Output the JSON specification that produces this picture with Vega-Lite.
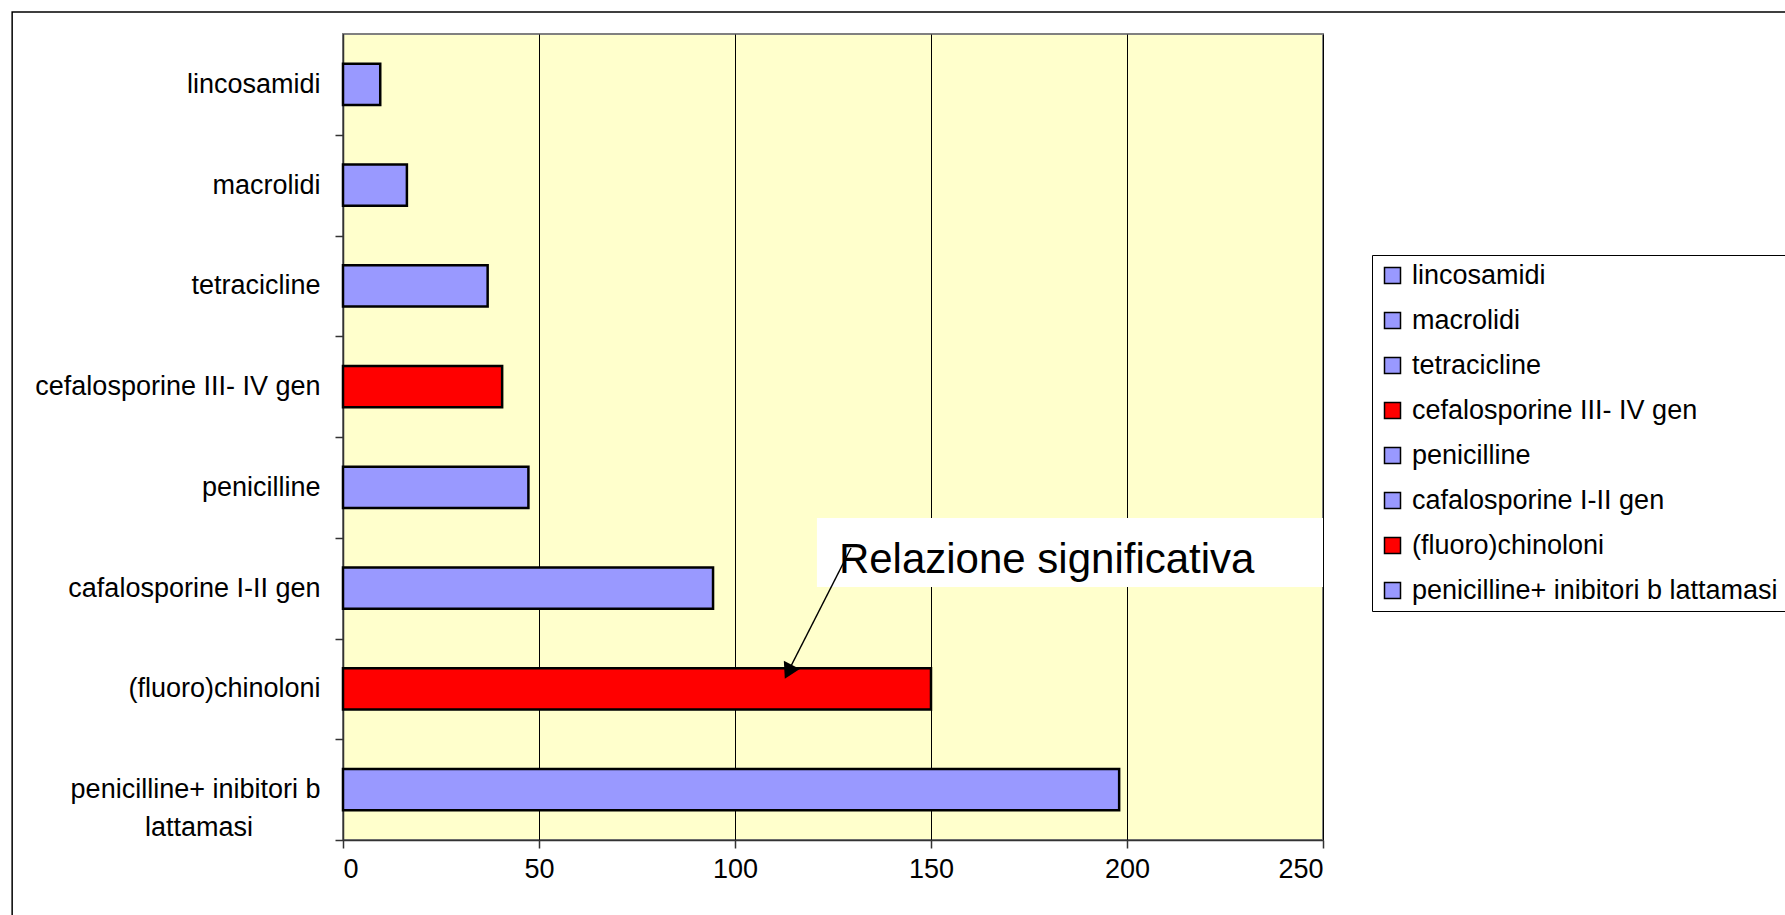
{
  "$schema": "https://vega.github.io/schema/vega-lite/v6.json",
  "autosize": {"type": "none"},
  "width": 980,
  "height": 806,
  "padding": {"left": 343, "top": 34, "right": 462, "bottom": 75},
  "background": "white",
  "config": {
    "font": "Liberation Sans",
    "view": {"fill": "#FFFFCC", "stroke": "#808080", "strokeWidth": 2},
    "axis": {
      "labelFont": "Liberation Sans",
      "labelFontSize": 27,
      "labelColor": "black",
      "domainColor": "#333333",
      "tickColor": "#333333",
      "domainWidth": 1.5,
      "tickWidth": 1.5,
      "title": null
    }
  },
  "datasets": {
    "bars": [
      {"classe": "lincosamidi", "valore": 9.5},
      {"classe": "macrolidi", "valore": 16.3},
      {"classe": "tetracicline", "valore": 36.9},
      {"classe": "cefalosporine III- IV gen", "valore": 40.6},
      {"classe": "penicilline", "valore": 47.3},
      {"classe": "cafalosporine I-II gen", "valore": 94.4},
      {"classe": "(fluoro)chinoloni", "valore": 150},
      {"classe": "penicilline+ inibitori b lattamasi", "valore": 198}
    ],
    "frame": [{"x": -84.4, "x2": 400, "y": 8.218, "y2": -1}],
    "box": [{"x": 120.9, "x2": 250, "y": 2.511, "y2": 3.196}],
    "note": [{"x": 126.5, "y": 2.654, "label": "Relazione significativa"}],
    "arrow": [{"x": 129.6, "y": 2.898, "x2": 113.8, "y2": 1.69}],
    "head": [{"x": 113.6, "y": 1.67}]
  },
  "layer": [
    {
      "data": {"name": "bars"},
      "mark": {"type": "bar", "stroke": "black", "strokeWidth": 2.5},
      "encoding": {
        "y": {
          "field": "classe",
          "type": "nominal",
          "sort": null,
          "scale": {"paddingInner": 0.59, "paddingOuter": 0.295},
          "axis": {
            "tickOffset": 50.375,
            "labelOffset": -50.375,
            "tickSize": 8,
            "labelPadding": 15,
            "labelLineHeight": 38,
            "labelLimit": 400,
            "labelExpr": "datum.value == 'penicilline+ inibitori b lattamasi' ? ['penicilline+ inibitori b', 'lattamasi \u2800\u2800\u2800'] : datum.label"
          }
        },
        "x": {
          "field": "valore",
          "type": "quantitative",
          "scale": {"domain": [0, 250], "nice": false},
          "axis": {
            "values": [0, 50, 100, 150, 200, 250],
            "grid": true,
            "gridColor": "black",
            "gridWidth": 1,
            "gridOpacity": 1,
            "tickSize": 8,
            "labelPadding": 8
          }
        },
        "color": {
          "field": "classe",
          "type": "nominal",
          "scale": {
            "domain": ["lincosamidi", "macrolidi", "tetracicline", "cefalosporine III- IV gen", "penicilline", "cafalosporine I-II gen", "(fluoro)chinoloni", "penicilline+ inibitori b lattamasi"],
            "range": ["#9999FF", "#9999FF", "#9999FF", "#FF0000", "#9999FF", "#9999FF", "#FF0000", "#9999FF"]
          },
          "legend": {
            "title": null,
            "orient": "none",
            "legendX": 1029,
            "legendY": 221,
            "padding": 7,
            "strokeColor": "black",
            "fillColor": "white",
            "symbolType": "square",
            "symbolSize": 256,
            "symbolStrokeColor": "black",
            "symbolStrokeWidth": 1.5,
            "labelFont": "Liberation Sans",
            "labelFontSize": 27,
            "labelColor": "black",
            "labelLimit": 600,
            "labelOffset": 6,
            "rowPadding": 17,
            "encode": {"symbols": {"update": {"stroke": {"value": "black"}, "strokeWidth": {"value": 1.5}}}}
          }
        }
      }
    },
    {
      "layer": [
        {
          "data": {"name": "frame"},
          "mark": {"type": "rect", "fill": "transparent", "stroke": "black", "strokeWidth": 1.5, "clip": false},
          "encoding": {
            "x": {"field": "x", "type": "quantitative"},
            "x2": {"field": "x2"},
            "y": {"field": "y", "type": "quantitative", "scale": {"domain": [0, 8], "nice": false, "zero": true}, "axis": null},
            "y2": {"field": "y2"}
          }
        },
        {
          "data": {"name": "box"},
          "mark": {"type": "rect", "fill": "white", "stroke": null},
          "encoding": {
            "x": {"field": "x", "type": "quantitative"},
            "x2": {"field": "x2"},
            "y": {"field": "y", "type": "quantitative", "axis": null},
            "y2": {"field": "y2"}
          }
        },
        {
          "data": {"name": "note"},
          "mark": {"type": "text", "fontSize": 42, "font": "Liberation Sans", "color": "black", "align": "left", "baseline": "alphabetic"},
          "encoding": {
            "x": {"field": "x", "type": "quantitative"},
            "y": {"field": "y", "type": "quantitative", "axis": null},
            "text": {"field": "label"}
          }
        },
        {
          "data": {"name": "arrow"},
          "mark": {"type": "rule", "color": "black", "strokeWidth": 1.5},
          "encoding": {
            "x": {"field": "x", "type": "quantitative"},
            "x2": {"field": "x2"},
            "y": {"field": "y", "type": "quantitative", "axis": null},
            "y2": {"field": "y2"}
          }
        },
        {
          "data": {"name": "head"},
          "mark": {"type": "point", "shape": "triangle-up", "filled": true, "color": "black", "opacity": 1, "size": 320, "angle": 206.9},
          "encoding": {
            "x": {"field": "x", "type": "quantitative"},
            "y": {"field": "y", "type": "quantitative", "axis": null}
          }
        }
      ]
    }
  ],
  "resolve": {"scale": {"y": "independent"}}
}
